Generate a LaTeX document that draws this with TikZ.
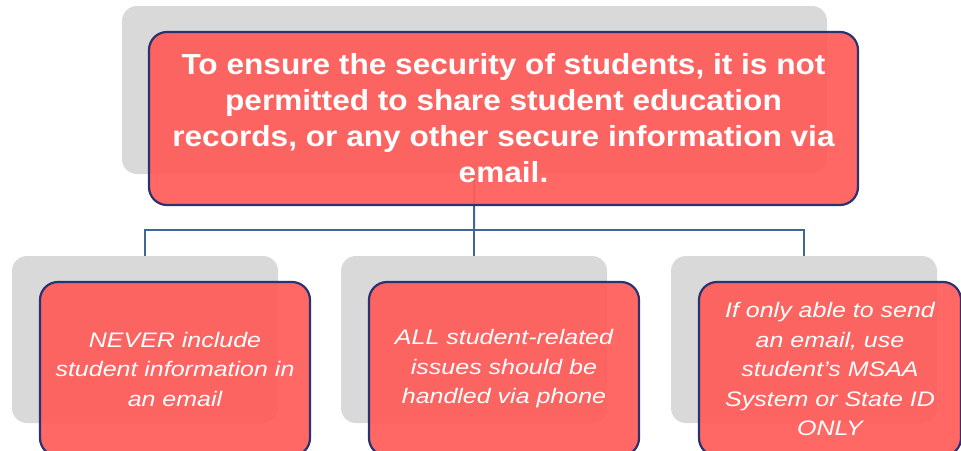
\documentclass[tikz,border=0pt]{standalone}
\usepackage{fontspec}
\setmainfont{Liberation Sans}
\newfontfamily\topfont[FakeStretch=1.09]{Liberation Sans}
\newfontfamily\subfont[FakeStretch=1.19]{Liberation Sans}
\definecolor{shadowgray}{HTML}{D9D9D9}
\definecolor{boxred}{HTML}{FF5C58}
\definecolor{boxedge}{HTML}{2B3270}
\definecolor{linkblue}{HTML}{41659A}
\tikzset{
  grayback/.style={fill=shadowgray, draw=none, rounded corners=15pt, inner sep=0pt},
  redbox/.style={fill=boxred, fill opacity=0.93, draw=boxedge, draw opacity=1, line width=2.2pt,
    rounded corners=18pt, inner sep=0pt, text=white, text opacity=1, align=center},
  toptext/.style={font=\topfont\bfseries\fontsize{29}{36}\selectfont},
  subtext/.style={font=\subfont\itshape\fontsize{21}{29.5}\selectfont},
  link/.style={draw=linkblue, line width=2pt}
}
\begin{document}
\begin{tikzpicture}[x=1pt,y=-1pt]
\useasboundingbox (0,0) rectangle (961,450);
\clip (0,0) rectangle (961,450);
% gray backs
\node[grayback, minimum width=705pt, minimum height=168pt] (gt) at (474.5,90) {};
\node[grayback, minimum width=266pt, minimum height=167pt] (g1) at (145,339.5) {};
\node[grayback, minimum width=266pt, minimum height=167pt] (g2) at (474,339.5) {};
\node[grayback, minimum width=266pt, minimum height=167pt] (g3) at (804,339.5) {};
% connectors
\coordinate (bar) at (474,230);
\draw[link] (gt.south) -- (bar);
\draw[link] (bar) -| (g1.north);
\draw[link] (bar) -- (g2.north);
\draw[link] (bar) -| (g3.north);
% red boxes
\node[redbox, toptext, minimum width=709pt, minimum height=173pt] (top) at (503.5,118.5)
  {To ensure the security of students, it is not\\permitted to share student education\\records, or any other secure information via\\email.};
\node[redbox, subtext, minimum width=270pt, minimum height=174pt] (b1) at (175,369)
  {NEVER include\\student information in\\an email};
\node[redbox, subtext, minimum width=270pt, minimum height=174pt] (b2) at (504,369)
  {ALL student-related\\issues should be\\handled via phone};
\node[redbox, subtext, minimum width=262pt, minimum height=174pt] (b3) at (830,369)
  {If only able to send\\an email, use\\student’s MSAA\\System or State ID\\ONLY};
\end{tikzpicture}
\end{document}
